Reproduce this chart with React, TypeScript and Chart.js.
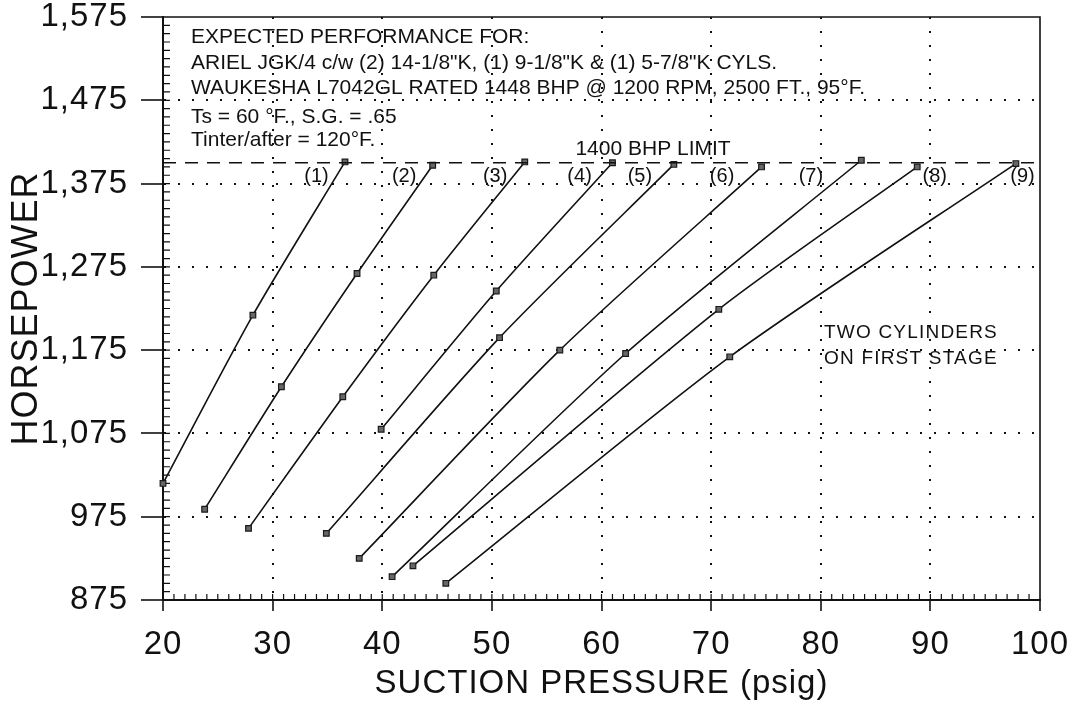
import React, { useEffect, useRef } from "react";
import { Chart, registerables } from "chart.js";

Chart.register(...registerables);

// ---------- data ----------
const curveLabels = ["(1)", "(2)", "(3)", "(4)", "(5)", "(6)", "(7)", "(8)", "(9)"];

const psig1 = [20, 28.2, 36.6];
const bhp1 = [1015, 1217, 1401];
const psig2 = [23.8, 30.8, 37.7, 44.6];
const bhp2 = [984, 1131, 1267, 1397];
const psig3 = [27.8, 36.4, 44.7, 53.0];
const bhp3 = [961, 1119, 1265, 1401];
const psig4 = [39.9, 50.4, 61.0];
const bhp4 = [1080, 1246, 1400];
const psig5 = [34.9, 50.7, 66.6];
const bhp5 = [955, 1190, 1398];
const psig6 = [37.9, 56.2, 74.6];
const bhp6 = [925, 1175, 1395];
const psig7 = [40.9, 62.2, 83.7];
const bhp7 = [903, 1171, 1403];
const psig8 = [42.8, 70.7, 88.8];
const bhp8 = [916, 1224, 1395];
const psig9 = [45.8, 71.7, 97.8];
const bhp9 = [895, 1167, 1399];

const curvePsig = [psig1, psig2, psig3, psig4, psig5, psig6, psig7, psig8, psig9];
const curveBhp = [bhp1, bhp2, bhp3, bhp4, bhp5, bhp6, bhp7, bhp8, bhp9];

const limitBhp = 1400;
const limitLabel = "1400 BHP LIMIT";

const xTickValues = [20, 30, 40, 50, 60, 70, 80, 90, 100];
const yTickValues = [875, 975, 1075, 1175, 1275, 1375, 1475, 1575];

const noteLines = [
  "EXPECTED PERFORMANCE FOR:",
  "ARIEL JGK/4 c/w (2) 14-1/8\"K, (1) 9-1/8\"K & (1) 5-7/8\"K CYLS.",
  "WAUKESHA L7042GL RATED 1448 BHP @ 1200 RPM, 2500 FT., 95°F.",
  "Ts = 60 °F., S.G. = .65",
  "Tinter/after = 120°F.",
];
const stageNote = ["TWO CYLINDERS", "ON FIRST STAGE"];

const xTitle = "SUCTION PRESSURE (psig)";
const yTitle = "HORSEPOWER";

// ---------- styling / placement ----------
const FONT = "'Liberation Sans', Arial, Helvetica, sans-serif";
const INK = "#111";

// label anchor positions (data units)
const curveLabelX = [34.0, 42.0, 50.3, 58.0, 63.5, 71.0, 79.1, 90.4, 98.4];
const curveLabelY = 1384;
const limitLabelPos = { x: 64.7, y: 1416 };
const stageNotePos = { x: 80.3, y: [1196, 1165] };
const noteOffsets = [26, 52, 77, 106, 129];

const spacingPlugin = {
  id: "spacing",
  beforeDraw(chart: any) {
    (chart.ctx as any).letterSpacing = "1px";
  },
};

const decorPlugin = {
  id: "decor",
  beforeDatasetsDraw(chart: any) {
    const { ctx, chartArea, scales } = chart;
    const xs = scales.x;
    const ys = scales.y;
    ctx.save();
    ctx.strokeStyle = INK;
    ctx.lineWidth = 1.6;
    ctx.beginPath();
    ctx.moveTo(chartArea.left, chartArea.top);
    ctx.lineTo(chartArea.right, chartArea.top);
    ctx.lineTo(chartArea.right, chartArea.bottom);
    ctx.stroke();

    // minor ticks, inward
    ctx.lineWidth = 1.2;
    ctx.beginPath();
    for (let i = Math.round(xs.min) + 1; i < Math.round(xs.max); i++) {
      const px = xs.getPixelForValue(i);
      ctx.moveTo(px, chartArea.bottom);
      ctx.lineTo(px, chartArea.bottom - 6);
    }
    const nY = Math.round((ys.max - ys.min) / 10);
    for (let i = 1; i < nY; i++) {
      const py = ys.getPixelForValue(ys.min + i * 10);
      ctx.moveTo(chartArea.left, py);
      ctx.lineTo(chartArea.left + 7, py);
    }
    ctx.stroke();
    ctx.restore();
  },
  afterDraw(chart: any) {
    const { ctx, chartArea, scales } = chart;
    const xs = scales.x;
    const ys = scales.y;
    ctx.save();
    (ctx as any).letterSpacing = "0px";
    ctx.fillStyle = INK;
    ctx.font = `21px ${FONT}`;
    ctx.textAlign = "left";
    ctx.textBaseline = "alphabetic";
    noteLines.forEach((t, i) => {
      ctx.fillText(t, chartArea.left + 28, chartArea.top + noteOffsets[i]);
    });

    ctx.font = `20px ${FONT}`;
    ctx.textAlign = "center";
    ctx.textBaseline = "middle";
    curveLabels.forEach((t, i) => {
      ctx.fillText(t, xs.getPixelForValue(curveLabelX[i]), ys.getPixelForValue(curveLabelY));
    });
    ctx.font = `21px ${FONT}`;
    ctx.fillText(limitLabel, xs.getPixelForValue(limitLabelPos.x), ys.getPixelForValue(limitLabelPos.y));

    ctx.textAlign = "left";
    ctx.font = `19px ${FONT}`;
    (ctx as any).letterSpacing = "1.2px";
    stageNote.forEach((t, i) => {
      ctx.fillText(t, xs.getPixelForValue(stageNotePos.x), ys.getPixelForValue(stageNotePos.y[i]));
    });
    ctx.restore();
  },
};

export default function App() {
  const ref = useRef<HTMLCanvasElement | null>(null);

  useEffect(() => {
    if (!ref.current) return;

    const curveSets = curvePsig.map((xs, i) => ({
      label: curveLabels[i],
      data: xs.map((x, j) => ({ x, y: curveBhp[i][j] })),
      showLine: true,
      borderColor: INK,
      borderWidth: 1.6,
      tension: 0.25,
      pointStyle: "rect",
      pointRadius: 4,
      pointBackgroundColor: "#666",
      pointBorderColor: "#1a1a1a",
      pointBorderWidth: 1.2,
      clip: false,
    }));

    const limitSet = {
      label: limitLabel,
      data: [
        { x: xTickValues[0], y: limitBhp },
        { x: xTickValues[xTickValues.length - 1], y: limitBhp },
      ],
      showLine: true,
      borderColor: INK,
      borderWidth: 1.6,
      borderDash: [13, 9],
      pointRadius: 0,
    };

    const edgeX = (c: any) =>
      c.tick && (c.tick.value === xTickValues[0] || c.tick.value === xTickValues[xTickValues.length - 1])
        ? "rgba(0,0,0,0)"
        : INK;
    const edgeY = (c: any) =>
      c.tick && (c.tick.value === yTickValues[0] || c.tick.value === yTickValues[yTickValues.length - 1])
        ? "rgba(0,0,0,0)"
        : INK;

    const chart = new Chart(ref.current, {
      type: "scatter",
      data: { datasets: [limitSet as any, ...curveSets] },
      plugins: [spacingPlugin, decorPlugin],
      options: {
        animation: false,
        responsive: false,
        devicePixelRatio: 1,
        layout: { padding: { top: 17, right: 32, left: 0, bottom: 0 } },
        plugins: { legend: { display: false }, tooltip: { enabled: false } },
        scales: {
          x: {
            type: "linear",
            min: 20,
            max: 100,
            afterBuildTicks: (s: any) => {
              s.ticks = xTickValues.map((v) => ({ value: v }));
            },
            afterFit: (s: any) => {
              s.height = 119;
              s.paddingLeft = 0;
              s.paddingRight = 0;
            },
            grid: {
              color: edgeX,
              lineWidth: 2,
              drawTicks: true,
              tickLength: 11,
              tickColor: INK,
              tickWidth: 1.6,
            },
            border: { display: true, color: INK, width: 2, dash: [2, 12] },
            ticks: {
              color: INK,
              font: { family: FONT, size: 33 },
              padding: 14,
              autoSkip: false,
              maxRotation: 0,
            },
            title: {
              display: true,
              text: xTitle,
              color: INK,
              font: { family: FONT, size: 33 },
              padding: { top: 0, bottom: 15 },
            },
          },
          y: {
            type: "linear",
            min: 875,
            max: 1575,
            afterBuildTicks: (s: any) => {
              s.ticks = yTickValues.map((v) => ({ value: v }));
            },
            afterFit: (s: any) => {
              s.width = 163;
              s.paddingTop = 0;
              s.paddingBottom = 0;
            },
            grid: {
              color: edgeY,
              lineWidth: 2,
              drawTicks: true,
              tickLength: 22,
              tickColor: INK,
              tickWidth: 1.6,
            },
            border: { display: true, color: INK, width: 2, dash: [2, 12] },
            ticks: {
              color: INK,
              font: { family: FONT, size: 33 },
              padding: 13,
              autoSkip: false,
              callback: (v: any) => Number(v).toLocaleString("en-US"),
            },
            title: {
              display: true,
              text: yTitle,
              color: INK,
              font: { family: FONT, size: 36 },
              padding: { top: 5, bottom: 0 },
            },
          },
        },
      },
    });

    return () => chart.destroy();
  }, []);

  return (
    <div style={{ position: "fixed", left: 0, top: 0, width: 1072, height: 719, background: "#fff" }}>
      <canvas ref={ref} width={1072} height={719} />
    </div>
  );
}
